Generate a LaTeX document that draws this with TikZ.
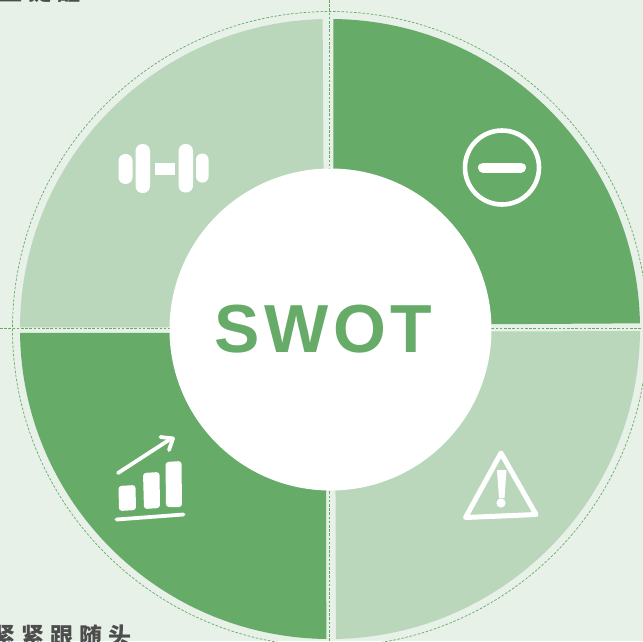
\documentclass[tikz,border=0pt]{standalone}
\usepackage{fontspec}
\setmainfont{Liberation Sans}
\newfontfamily\cjkf{Noto Sans CJK SC}[LetterSpace=26]
\newfontfamily\swotf{Liberation Sans}[LetterSpace=6.5]
\definecolor{bgc}{HTML}{E7F1E8}
\definecolor{darkg}{HTML}{67AB69}
\definecolor{lightg}{HTML}{BAD7BC}
\definecolor{greyt}{HTML}{4D4D4D}
\tikzset{
  guide/.style={draw=darkg,line width=0.8pt,dash pattern=on 2.6pt off 1.6pt},
  ico/.style={draw=white,line cap=round,line join=round},
}
\begin{document}
\begin{tikzpicture}[x=1pt,y=-1pt]
\useasboundingbox (0,0) rectangle (643,641);
\clip (0,0) rectangle (643,641);
\fill[bgc] (0,0) rectangle (643,641);
% dashed ring
\draw[guide,line width=0.7pt] (330,329) circle [radius=317.5];
% quadrants
\begin{scope}
  \clip (330,329) circle [radius=310];
  \fill[darkg] (333.3,0) -- (660,0) -- (660,323.2) -- (333.3,325.2) -- cycle;
  \fill[lightg] (322.5,0) -- (0,0) -- (0,327.5) -- (324.5,327) -- cycle;
  \fill[darkg] (0,332.8) -- (326,333) -- (326.3,660) -- (0,660) -- cycle;
  \fill[lightg] (335,331.8) -- (660,331) -- (660,660) -- (336,660) -- cycle;
\end{scope}
% dashed axes
\coordinate (vt) at (329.2,0);
\coordinate (vb) at (329.2,641);
\coordinate (hl) at (0,328.5);
\coordinate (hr) at (643,328.5);
\draw[guide] (vt) -- (vb);
\draw[guide] (hl) -- (hr);
% hub
\node[circle,fill=white,minimum size=322pt,inner sep=0pt] (hub) at (330.5,329.5) {};
\node[text=darkg,font=\swotf\bfseries\fontsize{68}{68}\selectfont,anchor=center,inner sep=0pt] (title) at (323.5,329) {SWOT};
% dumbbell icon
\fill[white,rounded corners=6.8pt] (118.5,154) rectangle (132.5,184);
\fill[white,rounded corners=7pt] (135.5,144) rectangle (150,193);
\fill[white] (154.5,163) rectangle (175,174.5);
\fill[white,rounded corners=7pt] (178.5,144) rectangle (193,192.5);
\fill[white,rounded corners=6pt] (196,153.5) rectangle (208.5,182.5);
% minus icon
\draw[white,line width=4.6pt] (502,167.5) circle [radius=37];
\draw[white,line width=10pt,line cap=round] (483,167.5) -- (521,167.5);
% warning icon
\draw[ico,line width=5pt] (501,453) -- (536,514.5) -- (465.5,517.5) -- cycle;
\fill[white] (497,470) -- (506.5,470) -- (504.5,498) -- (499,498) -- cycle;
\fill[white] (501,503) circle [radius=4.6];
% chart icon
\draw[ico,line width=3.8pt] (118,473) -- (172,438);
\draw[ico,line width=3.8pt] (160.5,437) -- (173,438.5) -- (169,450);
\fill[white,rounded corners=3pt] (118.5,486) -- (135.5,485) -- (136,510) -- (119,511) -- cycle;
\fill[white,rounded corners=3pt] (143,473) -- (159.5,472) -- (160,508) -- (144,509) -- cycle;
\fill[white,rounded corners=3pt] (165.5,462) -- (181.5,461) -- (182,507) -- (166,507) -- cycle;
\draw[ico,line width=3.8pt] (116.5,519.5) -- (183.5,514.5);
% cut-off text
\node[anchor=base west,inner sep=0pt,text=greyt,font=\cjkf\bfseries\fontsize{23}{23}\selectfont] (top) at (-1,0) {立提醒};
\node[anchor=base west,inner sep=0pt,text=greyt,font=\cjkf\bfseries\fontsize{23}{23}\selectfont] (bot) at (-8,644) {紧紧跟随头};
\end{tikzpicture}
\end{document}
